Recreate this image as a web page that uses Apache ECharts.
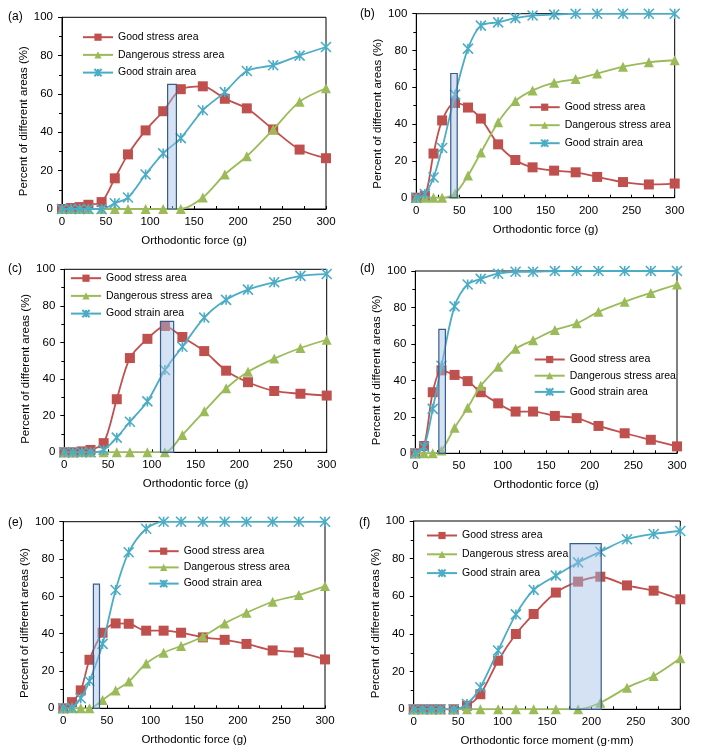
<!DOCTYPE html>
<html>
<head>
<meta charset="utf-8">
<script src="https://cdn.jsdelivr.net/npm/echarts@6/dist/echarts.min.js"></script>
<style>
html,body{margin:0;padding:0;background:#fff;}
#chart{width:704px;height:754px;}
</style>
</head>
<body>
<div id="chart"></div>
<script>
// ---- Data ----
const xForce = [0,10,20,30,45,60,75,95,115,135,160,185,210,240,270,300];
const seriesNames = ['Good stress area','Dangerous stress area','Good strain area'];
const panelLabels = ['(a)','(b)','(c)','(d)','(e)','(f)'];
const xAxisNames = ['Orthodontic force (g)','Orthodontic force (g)','Orthodontic force (g)','Orthodontic force (g)','Orthodontic force (g)','Orthodontic force moment (g·mm)'];
const yAxisName = 'Percent of different areas (%)';

const stressA = [0,0.5,1,2.2,3.6,16,28.5,41,51,62.5,64,57.5,52.5,41.5,31,26.5];
const dangerA = [0,0,0,0,0,0,0,0,0,0,6,18,27.5,41.5,56,63];
const strainA = [0,0,0,0,0,3,6,18,29,37,51.5,61,72,75,80,84.5];

const stressB = [0,1,24,42,51.5,49,43,29,20.5,16.5,14.7,13.8,11.3,8.5,7.2,7.7];
const dangerB = [0,0,0,0,2.3,12,24.5,41,52.5,58.3,62.5,64.5,67.5,71.2,73.6,74.7];
const strainB = [0,2,11,27,56,81,93.5,95.3,97.6,99,99.5,100,100,100,100,100];

const stressC = [0,0,0.5,1.3,5,29,51.5,62,69,63,55.3,44.6,38.3,33.5,32,31];
const dangerC = [0,0,0,0,0,0,0,0,0,9.5,22.4,35,44,51.2,57,61.5];
const strainC = [0,0,0,0,1.3,8,16.7,27.8,45,57.7,73.6,83.3,88.9,92.9,96.4,97.4];

const stressD = [0,4,33.5,45.5,43,39.6,33.5,27.4,22.9,22.9,20.5,19.3,15,11,7.4,3.8];
const dangerD = [0,0,0,1.6,14,25,37,47.5,57.3,62,67.7,71.3,77.6,83.2,88,92.6];
const strainD = [0,3.5,24.4,48,80.6,92.6,95.7,98.5,99.6,99.6,100,100,100,100,100,100];

const stressE = [0,3.3,9.6,26,40.5,45.5,45.3,41.6,41.6,40.5,38,36.7,34.5,31,30,26.2];
const dangerE = [0,0,0,0,4.5,9.5,14.3,24,29.8,33.4,38.5,45.5,51.2,57.1,60.7,65.5];
const strainE = [0,0.3,5.4,14.6,34.5,63.4,83.6,96.2,100,100,100,100,100,100,100,100];

const stressF = [0,0,0,0,0,1.9,8,25.8,40,50.6,62,67.8,70.4,65.8,63,58.4];
const dangerF = [0,0,0,0,0,0,0,0,0,0,0,0,3.5,11.5,17.7,27.1];
const strainF = [0,0,0,0,0,2.8,11.7,31.2,50.4,63.4,71,78,83.7,90.3,93.1,94.7];

// highlighted ranges: [xStart, xEnd, height]
const rectA = [120,130,65];
const rectB = [40,47.5,67.5];
const rectC = [110,125,71.5];
const rectD = [27,34.5,68];
const rectE = [34.5,41.5,66.5];
const rectF = [176,211,88];

const panels = [
  {s:stressA,d:dangerA,g:strainA,r:rectA},
  {s:stressB,d:dangerB,g:strainB,r:rectB},
  {s:stressC,d:dangerC,g:strainC,r:rectC},
  {s:stressD,d:dangerD,g:strainD,r:rectD},
  {s:stressE,d:dangerE,g:strainE,r:rectE},
  {s:stressF,d:dangerF,g:strainF,r:rectF}
];

// ---- Layout ----
const FONT = 'Liberation Sans, Arial, Helvetica, sans-serif';
const grids = [
  {left:62, top:17.3, width:264, height:191.7},
  {left:416.3, top:13.7, width:258.4, height:184},
  {left:64.3, top:269.3, width:262.4, height:183},
  {left:415.3, top:271, width:261.7, height:182.3},
  {left:63.3, top:521.7, width:261.7, height:186.6},
  {left:413.7, top:521, width:266.6, height:188.3}
];
const legendPos = [
  {left:82, top:31.7, gap:6.7},
  {left:528.7, top:101.7, gap:7},
  {left:70, top:272.7, gap:6.7},
  {left:533.7, top:354, gap:5.2},
  {left:147.7, top:545.7, gap:5.2},
  {left:426, top:530, gap:7.8}
];
const labelPos = [[8,17],[360,14],[8,269],[360,269],[8,522.5],[359,523]];

const RED = '#C0504D', GREEN = '#9BBB59', BLUE = '#4BACC6';
const STAR = 'path://M0,0L10,10M10,0L0,10M5,0L5,10';

const option = {
  animation:false,
  backgroundColor:'#fff',
  textStyle:{fontFamily:FONT},
  grid: grids.map(g => Object.assign({show:true, borderColor:'#000', borderWidth:1, backgroundColor:'transparent', containLabel:false}, g)),
  xAxis: grids.map((g,i) => ({
    type:'value', gridIndex:i, min:0, max:300, interval:50,
    name:xAxisNames[i], nameLocation:'middle', nameGap:26,
    nameTextStyle:{fontSize:11.5, color:'#000', fontFamily:FONT},
    axisLine:{show:true, onZero:false, lineStyle:{color:'#000', width:1}},
    axisTick:{show:true, inside:true, length:3, lineStyle:{color:'#000'}},
    minorTick:{show:true, splitNumber:2, length:3, lineStyle:{color:'#000'}},
    axisLabel:{fontSize:11.5, color:'#000', margin:7, fontFamily:FONT},
    splitLine:{show:false}
  })),
  yAxis: grids.map((g,i) => ({
    type:'value', gridIndex:i, min:0, max:100, interval:20,
    name:yAxisName, nameLocation:'middle', nameGap:30,
    nameTextStyle:{fontSize:11.5, color:'#000', fontFamily:FONT, padding:[0,16,0,0]},
    axisLine:{show:true, onZero:false, lineStyle:{color:'#000', width:1}},
    axisTick:{show:true, inside:false, length:4, lineStyle:{color:'#000'}},
    minorTick:{show:true, splitNumber:2, length:3, lineStyle:{color:'#000'}},
    axisLabel:{fontSize:11.5, color:'#000', margin:9, fontFamily:FONT},
    splitLine:{show:false}
  })),
  legend: legendPos.map(l => ({
    orient:'vertical', left:l.left, top:l.top, itemGap:l.gap,
    itemWidth:30, itemHeight:9, padding:0,
    data:seriesNames,
    textStyle:{fontSize:10.5, color:'#000', fontFamily:FONT, lineHeight:10},
    selectedMode:false
  })),
  graphic: panelLabels.map((t,i) => ({
    type:'text', x:labelPos[i][0], y:labelPos[i][1],
    style:{text:t, fontSize:12, fill:'#000', font:'12px ' + FONT, verticalAlign:'middle'}
  })),
  series: []
};

panels.forEach((p,i) => {
  const mk = (arr) => xForce.map((x,k) => [x, arr[k]]);
  option.series.push({
    name:seriesNames[0], type:'line', xAxisIndex:i, yAxisIndex:i,
    data:mk(p.s), smooth:0.3, symbol:'rect', symbolSize:10,
    lineStyle:{color:RED, width:1.8}, itemStyle:{color:RED}, z:2
  });
  option.series.push({
    name:seriesNames[1], type:'line', xAxisIndex:i, yAxisIndex:i,
    data:mk(p.d), smooth:0.3, symbol:'triangle', symbolSize:10,
    lineStyle:{color:GREEN, width:1.8}, itemStyle:{color:GREEN}, z:3
  });
  option.series.push({
    name:seriesNames[2], type:'line', xAxisIndex:i, yAxisIndex:i,
    data:mk(p.g), smooth:0.3, symbol:STAR, symbolSize:10,
    lineStyle:{color:BLUE, width:1.8}, itemStyle:{color:BLUE, borderColor:BLUE, borderWidth:1.6}, z:4
  });
  option.series.push({
    name:'range', type:'custom', xAxisIndex:i, yAxisIndex:i, z:10,
    data:[p.r], encode:{x:[0,1], y:2},
    renderItem:(params, api) => {
      const p0 = api.coord([api.value(0), api.value(2)]);
      const p1 = api.coord([api.value(1), 0]);
      return {
        type:'rect',
        shape:{x:p0[0], y:p0[1], width:p1[0]-p0[0], height:p1[1]-p0[1]},
        style:{fill:'rgba(160,190,228,0.45)', stroke:'#385D8A', lineWidth:1.2}
      };
    }
  });
});

const chart = echarts.init(document.getElementById('chart'), null, {renderer:'canvas'});
chart.setOption(option);
</script>
</body>
</html>
